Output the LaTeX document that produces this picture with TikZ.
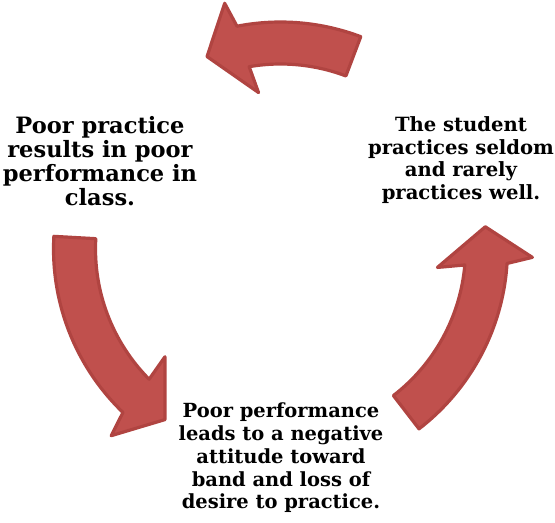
\documentclass[tikz,border=0pt]{standalone}
\usepackage{fontspec}
\setmainfont{DejaVu Serif}
\definecolor{arrowfill}{RGB}{192,80,77}
\definecolor{arrowline}{RGB}{176,68,65}
\begin{document}
\begin{tikzpicture}[x=0.75pt,y=0.75pt,yscale=-1,xscale=1,
  cyclearrow/.style={fill=arrowfill,draw=arrowline,line width=2.4pt,line join=round},
  steptext/.style={align=center,font=\bfseries,inner sep=0pt}]
\useasboundingbox (0,0) rectangle (555,522);

% arrows round the cycle
\begin{scope}[shift={(280.5,249)}]
\draw [cyclearrow] (-69.3:227) arc[start angle=-69.3, end angle=-101.05, radius=227] -- (-102.8:252) -- (-110.9:206) -- (-98:158) -- (-99.75:185) arc[start angle=-99.75, end angle=-69.3, radius=185] -- cycle;
\draw [cyclearrow] (-176.8:227) arc[start angle=-176.8, end angle=-226.05, radius=227] -- (-227.8:252) -- (-235.9:206) -- (-223:158) -- (-224.75:185) arc[start angle=-224.75, end angle=-176.8, radius=185] -- cycle;
\draw [cyclearrow] (-307.6:227) arc[start angle=-307.6, end angle=-356.35, radius=227] -- (-358.1:252) -- (-366.2:206) -- (-353.3:158) -- (-355.05:185) arc[start angle=-355.05, end angle=-307.6, radius=185] -- cycle;
\end{scope}

% texts
\node [steptext,font=\bfseries\fontsize{16.9}{18.2}\selectfont] (poorpractice) at (100,161) {Poor practice\\results in poor\\performance in\\class.};
\node [steptext,font=\bfseries\fontsize{14.7}{17}\selectfont] (seldom) at (461,160) {The student\\practices seldom\\and rarely\\practices well.};
\node [steptext,font=\bfseries\fontsize{14.6}{17.1}\selectfont] (attitude) at (281,458) {Poor performance\\leads to a negative\\attitude toward\\band and loss of\\desire to practice.};
\end{tikzpicture}
\end{document}
